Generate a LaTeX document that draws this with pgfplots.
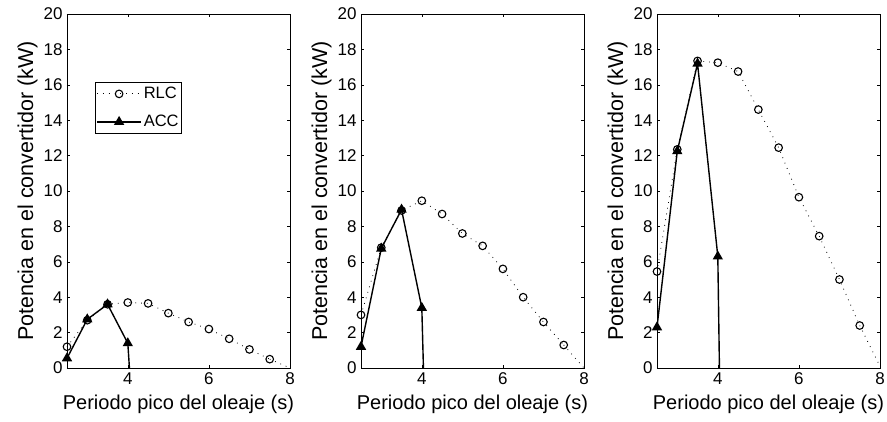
\documentclass[border=0pt]{standalone}
\usepackage{pgfplots}
\pgfplotsset{compat=1.18}
\usepackage{fontspec}
\setmainfont{Liberation Sans}
\pgfplotsset{
  panel/.style={
    scale only axis, width=223pt, height=354pt,
    xmin=2.5, xmax=8, ymin=0, ymax=20,
    xtick={4,6,8}, ytick={0,2,...,20},
    tick align=inside, major tick length=3pt,
    /pgf/number format/assume math mode=true,
    tick label style={font=\fontsize{17}{17}\selectfont},
    xlabel style={font=\fontsize{20}{20}\selectfont, yshift=-4pt},
    ylabel style={font=\fontsize{21.5}{21.5}\selectfont, yshift=-1pt},
    xlabel={Periodo pico del oleaje (s)},
    ylabel={Potencia en el convertidor (kW)},
    xticklabel style={yshift=-1pt},
    yticklabel style={xshift=-1pt},
    axis line style={line width=0.9pt},
    every tick/.style={black, line width=0.6pt},
    clip=true,
  },
  rlc/.style={black, line width=0.8pt, dash pattern=on 0.8pt off 5pt, mark=o, mark size=3.8pt,
    mark options={solid, line width=1.1pt}},
  rlcend/.style={black, line width=0.8pt, dash pattern=on 0.8pt off 5pt, forget plot},
  acc/.style={black, solid, line width=1.4pt, mark=triangle*, mark size=4.6pt,
    mark options={solid}},
  accend/.style={black, solid, line width=1.4pt, forget plot},
}
\begin{document}
\begin{tikzpicture}
\path[use as bounding box] (-67pt,-53pt) rectangle (820pt,368pt);
\begin{axis}[panel, at={(0pt,0pt)},
  legend style={at={(0.1256,0.808)}, anchor=north west, draw=black, line width=0.8pt,
    font=\fontsize{16.5}{16.5}\selectfont, inner xsep=1pt, inner ysep=3pt, row sep=11pt},
  legend image code/.code={\draw[mark repeat=2,mark phase=2,#1] plot coordinates {(0pt,0pt)(22pt,0pt)(44pt,0pt)};},
  legend cell align=left]
\addplot[rlc] coordinates {(2.5,1.2)(3,2.7)(3.5,3.6)(4,3.7)(4.5,3.65)(5,3.1)(5.5,2.6)(6,2.2)(6.5,1.65)(7,1.05)(7.5,0.5)};
\addlegendentry{RLC}
\addplot[acc] coordinates {(2.5,0.55)(3,2.75)(3.5,3.6)(4,1.4)};
\addlegendentry{ACC}
\addplot[rlcend] coordinates {(7.5,0.5)(8,0)};
\addplot[accend] coordinates {(4,1.4)(4.04,0)};
\end{axis}
\begin{axis}[panel, at={(294pt,0pt)}]
\addplot[rlc] coordinates {(2.5,3.0)(3,6.8)(3.5,8.9)(4,9.45)(4.5,8.7)(5,7.6)(5.5,6.9)(6,5.6)(6.5,4.0)(7,2.6)(7.5,1.3)};
\addplot[rlcend] coordinates {(7.5,1.3)(8,0)};
\addplot[acc] coordinates {(2.5,1.2)(3,6.75)(3.5,8.95)(4,3.4)};
\addplot[accend] coordinates {(4,3.4)(4.04,0)};
\end{axis}
\begin{axis}[panel, at={(590pt,0pt)}]
\addplot[rlc] coordinates {(2.5,5.45)(3,12.35)(3.5,17.35)(4,17.25)(4.5,16.75)(5,14.6)(5.5,12.45)(6,9.65)(6.5,7.45)(7,5.0)(7.5,2.4)};
\addplot[rlcend] coordinates {(7.5,2.4)(8,0.1)};
\addplot[acc] coordinates {(2.5,2.3)(3,12.25)(3.5,17.2)(4,6.3)};
\addplot[accend] coordinates {(4,6.3)(4.04,0)};
\end{axis}
\end{tikzpicture}
\end{document}
